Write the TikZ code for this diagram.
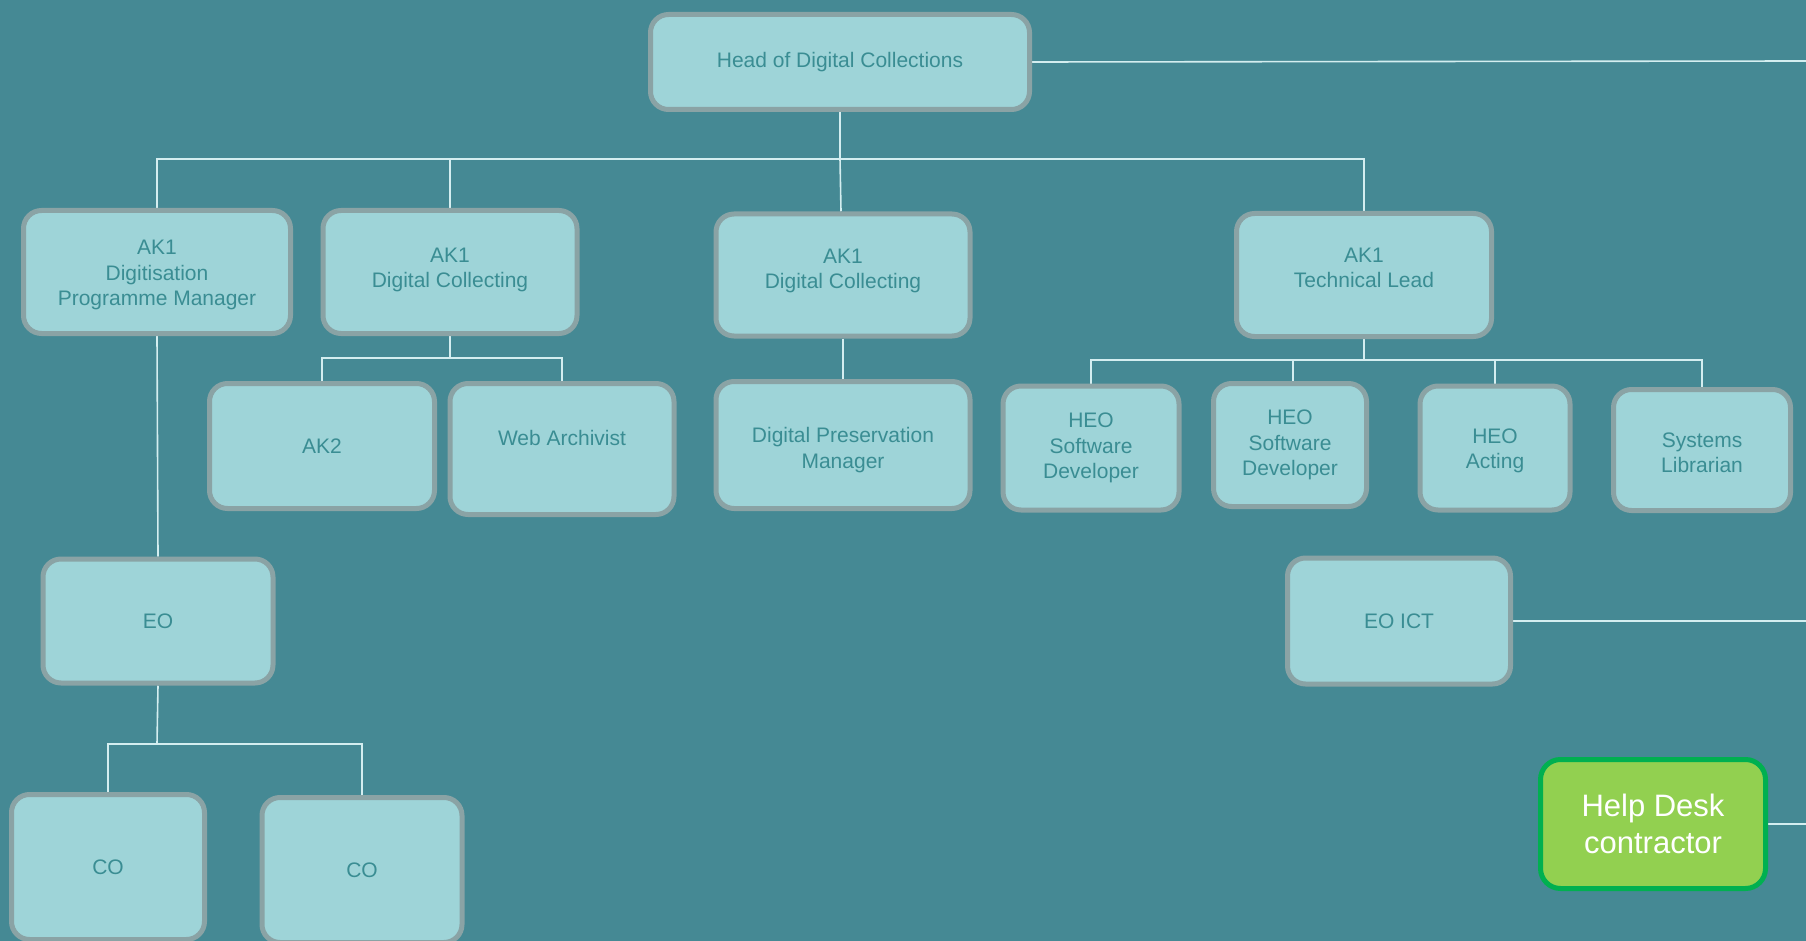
\documentclass[tikz,border=0pt]{standalone}
\usepackage{fontspec}
\setmainfont{Liberation Sans}
\definecolor{bgc}{HTML}{458994}
\definecolor{boxfill}{HTML}{9ED4D8}
\definecolor{boxline}{HTML}{8AA3A5}
\definecolor{boxtext}{HTML}{3A8D93}
\definecolor{linec}{HTML}{D4EEF0}
\definecolor{helpfill}{HTML}{92D050}
\definecolor{helpline}{HTML}{00B050}
\pgfdeclarelayer{back}
\pgfdeclarelayer{wires}
\pgfsetlayers{back,wires,main}
\tikzset{
  orgbox/.style n args={2}{draw=boxline, fill=boxfill, line width=5pt, rounded corners=18pt,
    minimum width=#1-5pt, minimum height=#2-5pt, inner sep=0pt, align=center,
    text=boxtext, font=\fontsize{21}{25.5}\selectfont},
  helpbox/.style n args={2}{draw=helpline, fill=helpfill, line width=5pt, rounded corners=20pt,
    minimum width=#1-5pt, minimum height=#2-5pt, inner sep=0pt, align=center,
    text=white, font=\fontsize{31}{37.7}\selectfont},
  plaintext/.style={inner sep=0pt, align=center, text=boxtext, font=\fontsize{21}{25.5}\selectfont},
  wire/.style={draw=linec, line width=1.6pt}
}
\begin{document}
\begin{tikzpicture}[x=1pt,y=-1pt]
\useasboundingbox (0,0) rectangle (1806,941);
\begin{pgfonlayer}{back}
\fill[bgc] (0,0) rectangle (1806,941);
\end{pgfonlayer}
\begin{scope}
\clip (0,0) rectangle (1806,941);
\node[orgbox={384pt}{100pt}] (head) at (840,62) {Head of Digital Collections};
\node[orgbox={272pt}{128pt}] (ak1dig) at (157,272) {};
\node[plaintext] (ak1digtext) at ([yshift=-3pt]ak1dig.center) {AK1\\Digitisation\\Programme Manager};
\node[orgbox={259pt}{128pt}] (ak1colL) at (450,272) {};
\node[plaintext] (ak1colLtext) at ([yshift=2pt]ak1colL.center) {AK1\\Digital Collecting};
\node[orgbox={259pt}{127pt}] (ak1colM) at (843,275) {};
\node[plaintext] (ak1colMtext) at ([yshift=4pt]ak1colM.center) {AK1\\Digital Collecting};
\node[orgbox={260pt}{128pt}] (ak1tech) at (1364,275) {};
\node[plaintext] (ak1techtext) at ([yshift=7pt]ak1tech.center) {AK1\\Technical Lead};
\node[orgbox={230pt}{130pt}] (ak2) at (322,446) {AK2};
\node[orgbox={229pt}{136pt}] (wa) at (562,449) {};
\node[plaintext] (watext) at ([yshift=11pt]wa.center) {Web Archivist};
\node[orgbox={259pt}{132pt}] (dpm) at (843,445) {};
\node[plaintext] (dpmtext) at ([yshift=-5pt]dpm.center) {Digital Preservation\\Manager};
\node[orgbox={181pt}{129pt}] (heo1) at (1091,448) {HEO\\Software\\Developer};
\node[orgbox={158pt}{128pt}] (heo2) at (1290,445) {HEO\\Software\\Developer};
\node[orgbox={155pt}{129pt}] (heoa) at (1495,448) {};
\node[plaintext] (heoatext) at ([yshift=-3pt]heoa.center) {HEO\\Acting};
\node[orgbox={182pt}{126pt}] (syslib) at (1702,450) {};
\node[plaintext] (syslibtext) at ([yshift=-3pt]syslib.center) {Systems\\Librarian};
\node[orgbox={235pt}{129pt}] (eo) at (158,621) {EO};
\node[orgbox={228pt}{131pt}] (eoict) at (1399,621) {EO ICT};
\node[orgbox={198pt}{150pt}] (co1) at (108,867) {CO};
\node[orgbox={205pt}{150pt}] (co2) at (362,870) {CO};
\node[helpbox={230pt}{134pt}] (help) at (1653,824) {Help Desk\\contractor};

\coordinate (edgeA) at (1806,61);
\coordinate (edgeB) at (1806,621);
\coordinate (edgeC) at (1806,824);
\coordinate (b0) at (840,159);
\coordinate (bL) at (157,159);
\coordinate (bR) at (1364,159);
\coordinate (c1) at (449,358);
\coordinate (t1) at (1367,360);
\coordinate (e1) at (157,744);

\begin{pgfonlayer}{wires}
\draw[wire] (head.east) -- (edgeA);
\draw[wire] (head.south) -- (b0) -- ([xshift=-2pt]ak1colM.north);
\draw[wire] (ak1dig.north) -- (bL) -- (bR) -- (ak1tech.north);
\draw[wire] (ak1colL.north) -- (ak1colL.north |- bL);
\draw[wire] (ak1colL.south) -- (ak1colL.south |- c1);
\draw[wire] (ak2.north) -- (ak2.north |- c1) -- (wa.north |- c1) -- (wa.north);
\draw[wire] (ak1colM.south) -- (dpm.north);
\draw[wire] (ak1tech.south) -- (ak1tech.south |- t1);
\draw[wire] (heo1.north) -- (heo1.north |- t1) -- (syslib.north |- t1) -- (syslib.north);
\draw[wire] ([xshift=3pt]heo2.north) -- ([xshift=3pt]heo2.north |- t1);
\draw[wire] (heoa.north) -- (heoa.north |- t1);
\draw[wire] (ak1dig.south) -- (eo.north);
\draw[wire] (eo.south) -- (e1);
\draw[wire] (co1.north) -- (co1.north |- e1) -- (co2.north |- e1) -- (co2.north);
\draw[wire] (eoict.east) -- (edgeB);
\draw[wire] (help.east) -- (edgeC);
\end{pgfonlayer}
\end{scope}
\end{tikzpicture}
\end{document}
